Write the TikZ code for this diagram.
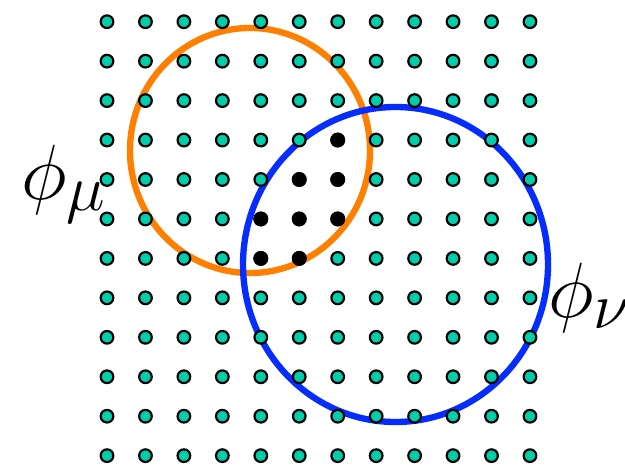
\documentclass[tikz,border=0pt]{standalone}
\usepackage{amsmath,amssymb}
\usepackage{tikz}
\usetikzlibrary{positioning}
\definecolor{siteteal}{RGB}{0,206,170}
\definecolor{orbmu}{RGB}{255,128,0}
\definecolor{orbnu}{RGB}{5,45,255}
\newcommand{\biglabel}[1]{\scalebox{1.89}{\fontsize{24.88}{30}\selectfont #1}}

\begin{document}
\begin{tikzpicture}[x=0.6pt,y=-0.6pt,
    site/.style={circle, draw=black, line width=1.3pt, fill=siteteal, inner sep=0pt, minimum size=7.6pt},
    shared/.style={site, fill=black},
    orbit/.style={line width=3.8pt},
    label/.style={inner sep=0pt, anchor=base west}]
    \useasboundingbox (0,0) rectangle (625,465);

    % the two orbitals
    \draw[orbit, orbmu] (250,150.5) ellipse [x radius=120, y radius=122.5];
    \draw[orbit, orbnu] (395.5,264.5) ellipse [x radius=152.5, y radius=157.5];

    % lattice sites
    \foreach \i in {0,...,11}{
        \foreach \j in {0,...,11}{
            \node[site] (s-\i-\j) at ({107+38.45*\i},{21.7+39.45*\j}) {};
        }
    }
    % sites in the overlap
    \foreach \i/\j in {6/3, 5/4, 6/4, 4/5, 5/5, 6/5, 4/6, 5/6}
        \node[shared] (o-\i-\j) at (s-\i-\j) {};

    \node[label] (mu) at (21,199) {\biglabel{$\phi_\mu$}};
    \node[label] (nu) at (548,317) {\biglabel{$\phi_\nu$}};
\end{tikzpicture}
\end{document}
